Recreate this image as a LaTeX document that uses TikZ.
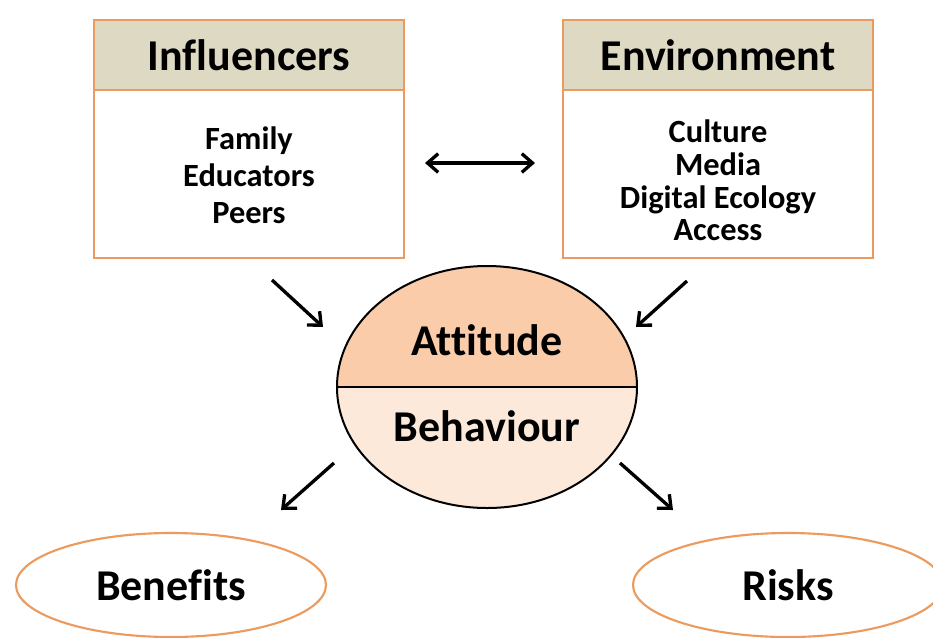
\documentclass[tikz,border=0pt]{standalone}
\usepackage{fontspec}
\setmainfont{Carlito}[Ligatures=NoCommon]
\usetikzlibrary{arrows.meta,shapes.geometric,positioning}
\definecolor{frameorange}{RGB}{235,155,95}
\definecolor{headtan}{RGB}{221,217,195}
\definecolor{attpeach}{RGB}{251,204,170}
\definecolor{behpeach}{RGB}{253,233,217}
\tikzset{
  headbox/.style={rectangle, draw=frameorange, line width=2pt, fill=headtan,
                  minimum width=232.5pt, minimum height=52.5pt, inner sep=0pt,
                  font=\fontsize{33}{38}\selectfont\bfseries},
  listbox/.style={rectangle, draw=frameorange, line width=2pt, fill=white,
                  minimum width=232.5pt, minimum height=126pt, inner sep=0pt},
  listtext/.style={align=center, inner sep=0pt,
                   font=\fontsize{24.3}{28}\selectfont\bfseries},
  coreoval/.style={ellipse, draw=black, line width=1.5pt, inner sep=0pt,
                   minimum width=225pt, minimum height=181.5pt},
  coretext/.style={font=\fontsize{33}{38}\selectfont\bfseries},
  outcome/.style={ellipse, draw=frameorange, line width=1.6pt, inner sep=0pt,
                  minimum width=232.5pt, minimum height=78pt,
                  font=\fontsize{33}{38}\selectfont\bfseries},
  link/.style={line width=2.5pt, -{Straight Barb[length=8pt,width=14pt]}},
  bilink/.style={line width=2.5pt,
                 {Straight Barb[length=8pt,width=14pt]}-{Straight Barb[length=8pt,width=14pt]}},
}

\begin{document}
\begin{tikzpicture}[x=0.75pt, y=-0.75pt]
  \useasboundingbox (0,0) rectangle (933,637);
  % Influencers box
  \node[headbox] (inflhead) at (249,55) {Influencers};
  \node[listbox, below=-2pt of inflhead] (inflbody) {};
  \node[listtext] (infllist) at ([yshift=-1pt]inflbody.center)
        {Family\\Educators\\Peers};
  % Environment box
  \node[headbox] (envhead) at (718,55) {Environment};
  \node[listbox, below=-2pt of envhead] (envbody) {};
  \node[listtext, font=\fontsize{24.3}{24.5}\selectfont\bfseries] (envlist)
        at ([yshift=-5pt]envbody.center)
        {Culture\\Media\\Digital Ecology\\Access};
  % Attitude / Behaviour oval, split in two halves
  \node[coreoval, path picture={
      \fill[attpeach] (path picture bounding box.north west) rectangle (path picture bounding box.east);
      \fill[behpeach] (path picture bounding box.west) rectangle (path picture bounding box.south east);
      \draw[line width=1.5pt] (path picture bounding box.west) -- (path picture bounding box.east);
    }] (core) at (487,387) {};
  \node[coretext] (att) at (487,340) {Attitude};
  \node[coretext] (beh) at (487,426) {Behaviour};
  % Outcomes
  \node[outcome] (benefit) at (171,585) {Benefits};
  \node[outcome] (risk) at (788,585) {Risks};
  % Arrow ends
  \coordinate (mutL) at (425,163);
  \coordinate (mutR) at (535,163);
  \coordinate (inflA) at (272,280);
  \coordinate (inflB) at (323,327);
  \coordinate (envA) at (687,281);
  \coordinate (envB) at (636,327);
  \coordinate (benA) at (334,463);
  \coordinate (benB) at (281,510);
  \coordinate (riskA) at (620,463);
  \coordinate (riskB) at (673,510);
  % Arrows
  \draw[bilink] (mutL) -- (mutR);
  \draw[link] (inflA) -- (inflB);
  \draw[link] (envA) -- (envB);
  \draw[link] (benA) -- (benB);
  \draw[link] (riskA) -- (riskB);
\end{tikzpicture}
\end{document}
